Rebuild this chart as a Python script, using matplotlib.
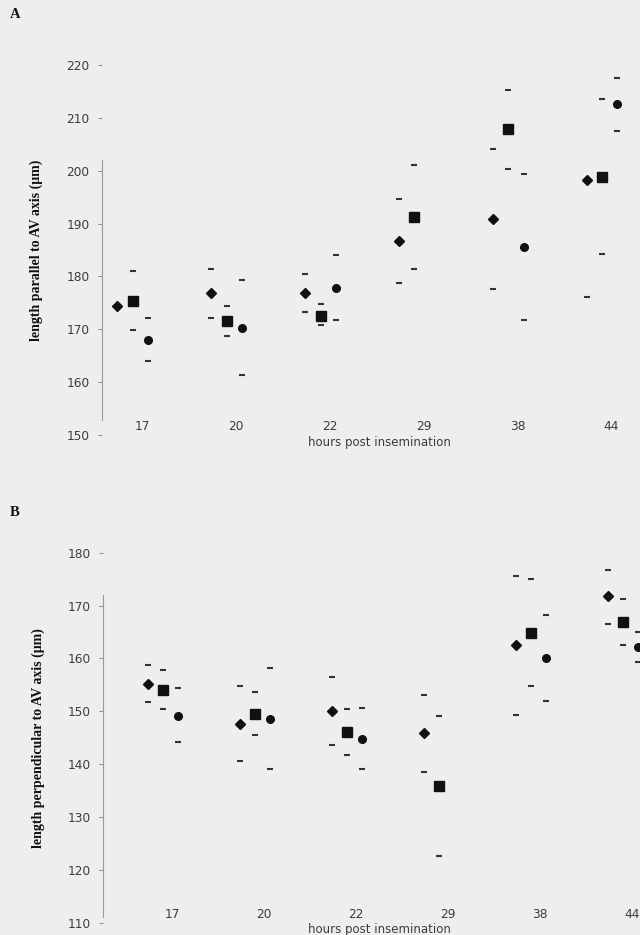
import numpy as np
import matplotlib
matplotlib.use("Agg")
import matplotlib.pyplot as plt

nan = np.nan

# время после осеменения (часы)
hours = ["17", "20", "22", "29", "38", "44"]

# Панель A: длина вдоль оси AV (мкм)
a_diamond = [174.4, 176.8, 176.8, 186.7, 190.8, 198.3]
a_diamond_hi = [nan, 181.5, 180.4, 194.6, 204.2, 220.6]
a_diamond_lo = [nan, 172.2, 173.3, 178.7, 177.6, 176.2]
a_square = [175.4, 171.5, 172.6, 191.2, 207.9, 198.8]
a_square_hi = [181.0, 174.4, 174.7, 201.0, 215.3, 213.6]
a_square_lo = [169.8, 168.8, 170.8, 181.4, 200.3, 184.3]
a_circle = [168.0, 170.3, 177.9, nan, 185.5, 212.6]
a_circle_hi = [172.2, 179.3, 184.1, nan, 199.3, 217.5]
a_circle_lo = [164.0, 161.3, 171.7, nan, 171.8, 207.6]

# Панель B: длина перпендикулярно оси AV (мкм)
b_diamond = [155.2, 147.6, 150.0, 145.8, 162.5, 171.8]
b_diamond_hi = [158.7, 154.8, 156.4, 153.1, 175.6, 176.7]
b_diamond_lo = [151.7, 140.5, 143.6, 138.5, 149.3, 166.6]
b_square = [154.1, 149.5, 146.1, 135.9, 164.8, 166.8]
b_square_hi = [157.9, 153.6, 150.4, 149.1, 175.0, 171.2]
b_square_lo = [150.4, 145.5, 141.8, 122.7, 154.7, 162.6]
b_circle = [149.2, 148.5, 144.8, nan, 160.0, 162.2]
b_circle_hi = [154.4, 158.1, 150.6, nan, 168.2, 165.0]
b_circle_lo = [144.2, 139.0, 139.1, nan, 151.9, 159.4]

bg = "#f0eeec"
tick_col = "#3c3c3c"
serif = ["Liberation Serif", "DejaVu Serif"]

fig = plt.figure(figsize=(6.4, 9.35), dpi=100, facecolor=bg)
W, H = 640, 935


def add_panel(rect_px, ylims, xlims, series, ylabel, letter, letter_xy, ylabel_x, spine_bounds, off):
    l, t, r, b = rect_px
    ax = fig.add_axes([l / W, 1 - b / H, (r - l) / W, (b - t) / H])
    ax.set_facecolor(bg)
    x = np.arange(len(hours))
    markers = [("D", 5, -off), ("s", 6.5, 0.0), ("o", 5.5, off)]
    for (mean, hi, lo), (m, ms, dx) in zip(series, markers):
        ax.plot(x + dx, mean, linestyle="none", marker=m, ms=ms, color="#111111")
        ax.plot(x + dx, hi, linestyle="none", marker="_", ms=4.5, mew=1.5, color="#333333")
        ax.plot(x + dx, lo, linestyle="none", marker="_", ms=4.5, mew=1.5, color="#333333")
    ax.set_xlim(*xlims)
    ax.set_ylim(*ylims)
    ax.set_yticks(np.arange(ylims[0], ylims[1] + 1, 10))
    ax.set_xticks(x + 0.1)
    ax.set_xticklabels(hours)
    ax.tick_params(axis="x", length=0, pad=-10.5, labelsize=8.7, labelcolor=tick_col)
    ax.tick_params(axis="y", length=3, width=0.7, color="#888888", pad=6,
                   labelsize=8.7, labelcolor=tick_col)
    for s in ["top", "right", "bottom"]:
        ax.spines[s].set_visible(False)
    ax.spines["left"].set_color("#9a9a9a")
    ax.spines["left"].set_linewidth(0.8)
    ax.spines["left"].set_bounds(*spine_bounds)
    ax.text(0.515, -0.019, "hours post insemination", transform=ax.transAxes,
            ha="center", va="center", fontsize=8.5, color=tick_col)
    fig.text(ylabel_x / W, 1 - (t + b) / 2 / H, ylabel, rotation=90,
             ha="center", va="center", fontsize=10, fontweight="bold",
             family=serif, color="#111111")
    fig.text(letter_xy[0] / W, 1 - letter_xy[1] / H, letter, ha="left", va="center",
             fontsize=10.5, fontweight="bold", family=serif, color="#111111")
    return ax


add_panel((102, 65, 640, 435), (150, 220), (-0.330, 5.405),
          [(a_diamond, a_diamond_hi, a_diamond_lo),
           (a_square, a_square_hi, a_square_lo),
           (a_circle, a_circle_hi, a_circle_lo)],
          "length parallel to AV axis (\u03bcm)", "A", (10, 15), 36,
          (152.8, 202), 0.165)

add_panel((103, 552.7, 640, 922.7), (110, 180), (-0.652, 5.185),
          [(b_diamond, b_diamond_hi, b_diamond_lo),
           (b_square, b_square_hi, b_square_lo),
           (b_circle, b_circle_hi, b_circle_lo)],
          "length perpendicular to AV axis (\u03bcm)", "B", (10, 512), 38,
          (111, 172), 0.168)

fig.savefig("out.png", dpi=100, facecolor=bg)
